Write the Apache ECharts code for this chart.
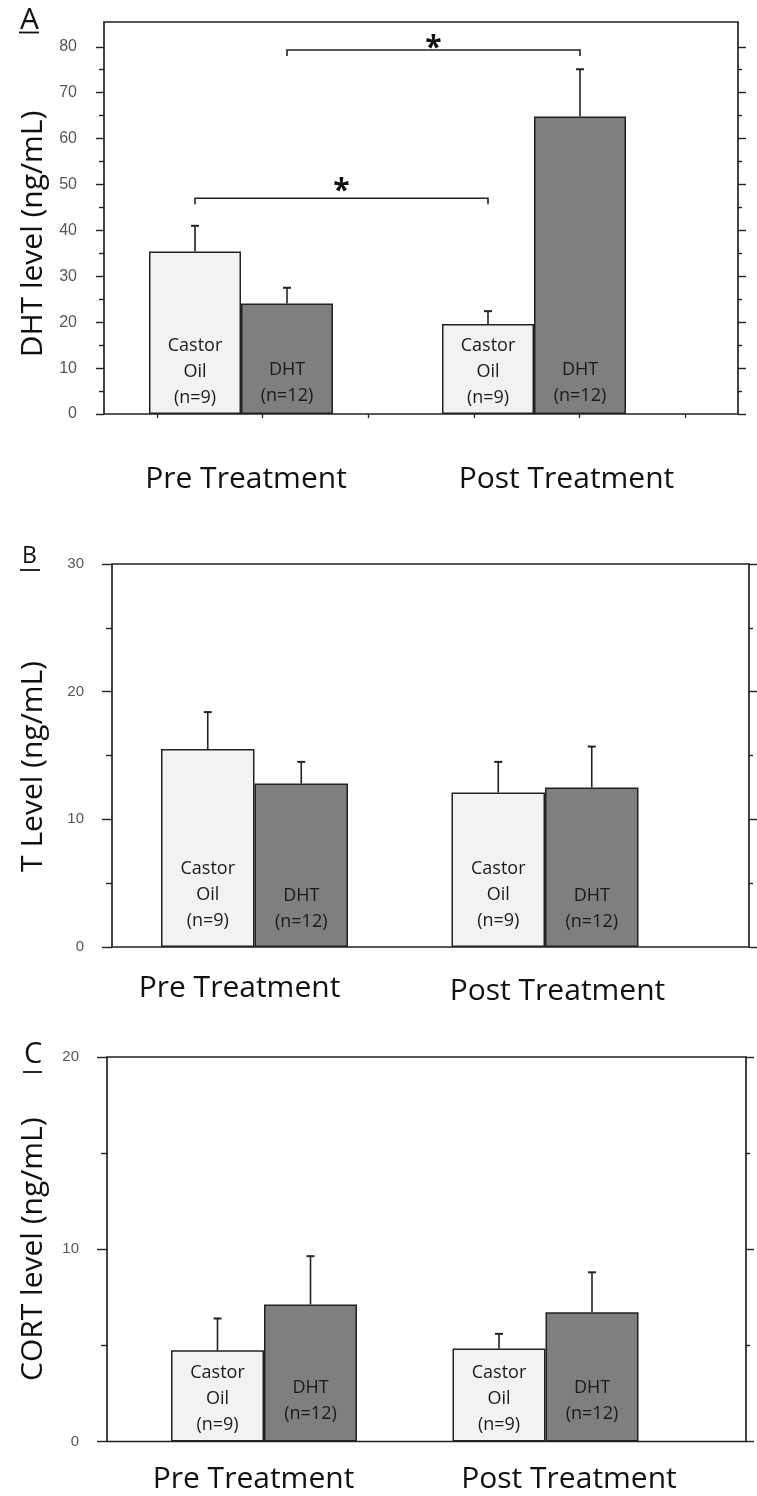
<!DOCTYPE html>
<html><head><meta charset="utf-8">
<script src="https://cdn.jsdelivr.net/npm/echarts@6/dist/echarts.min.js"></script>
<style>html,body{margin:0;padding:0;background:#fff}#c{width:757px;height:1496px}</style>
</head><body><div id="c"></div>
<script>
// ---------- data ----------
const groups = ['Pre Treatment', 'Post Treatment'];
const seriesNames = ['Castor Oil', 'DHT'];
const barLabels = ['Castor\nOil\n(n=9)', 'DHT\n(n=12)'];

// Panel A: DHT level (ng/mL)
const dhtCastor = [35.4, 19.6];
const dhtCastorErr = [5.6, 2.8];
const dhtDHT = [24.1, 64.8];
const dhtDHTErr = [3.4, 10.3];
const dhtAxisMax = 85.4;
const dhtTicks = [0, 10, 20, 30, 40, 50, 60, 70, 80];
const dhtMinorTicks = [5, 15, 25, 35, 45, 55, 65, 75];
// significance brackets: [seriesIndex compared pre vs post, bracket level, star level]
const dhtSigSeries = [0, 1];
const dhtSigLevel = [47.0, 79.3];
const dhtSigStar = [49.6, 80.8];

// Panel B: T level (ng/mL)
const tCastor = [15.5, 12.1];
const tCastorErr = [2.9, 2.4];
const tDHT = [12.8, 12.5];
const tDHTErr = [1.7, 3.2];
const tAxisMax = 30;
const tTicks = [0, 10, 20, 30];
const tMinorTicks = [5, 15, 25];

// Panel C: CORT level (ng/mL)
const cortCastor = [4.74, 4.84];
const cortCastorErr = [1.66, 0.76];
const cortDHT = [7.13, 6.72];
const cortDHTErr = [2.51, 2.08];
const cortAxisMax = 20;
const cortTicks = [0, 10, 20];
const cortMinorTicks = [5, 15];

const frameSlots = ['a', 'b', 'c', 'd', 'e', 'f'];

// ---------- layout / style ----------
const INK = '#222';
const panels = [
  { letter: 'A', title: 'DHT level (ng/mL)', castor: dhtCastor, castorErr: dhtCastorErr, dht: dhtDHT, dhtErr: dhtDHTErr,
    max: dhtAxisMax, ticks: dhtTicks, minor: dhtMinorTicks,
    sig: dhtSigSeries.map((s, k) => [s, dhtSigLevel[k], dhtSigStar[k]]),
    L: { frame: { left: 104, right: 19, top: 22, height: 392 }, bars: { left: 94.5, right: 76.5 }, barWidth: 92,
      tickFont: 16, labelMargin: 27, majorLen: 8, minorLen: 5, nameGap: 56, namePad: 32,
      groupShift: [5, 32.5], groupDy: [0, 0], groupMargin: 47, labelDist: [3, 5], xTicks: true,
      letter: { x: 20, top: 5, size: 30, ul: [19, 39, 32.5] } } },
  { letter: 'B', title: 'T Level (ng/mL)', castor: tCastor, castorErr: tCastorErr, dht: tDHT, dhtErr: tDHTErr,
    max: tAxisMax, ticks: tTicks, minor: tMinorTicks, sig: [],
    L: { frame: { left: 112, right: 8, top: 564, height: 383 }, bars: { left: 109.25, right: 66.75 }, barWidth: 93.5,
      tickFont: 15, labelMargin: 28, majorLen: 10, minorLen: 6, nameGap: 64, namePad: 22,
      groupShift: [-15, 12.5], groupDy: [0, 7], groupMargin: 23, labelDist: [13, 12], xTicks: false,
      letter: { x: 22, top: 544.5, size: 23, ul: [20, 40, 570] } } },
  { letter: 'C', title: 'CORT level (ng/mL)', castor: cortCastor, castorErr: cortCastorErr, dht: cortDHT, dhtErr: cortDHTErr,
    max: cortAxisMax, ticks: cortTicks, minor: cortMinorTicks, sig: [],
    L: { frame: { left: 107, right: 11, top: 1057, height: 384.5 }, bars: { left: 123.25, right: 70.75 }, barWidth: 93,
      tickFont: 15, labelMargin: 28, majorLen: 10, minorLen: 6, nameGap: 59, namePad: 0,
      groupShift: [-10.5, 23.5], groupDy: [0, 0], groupMargin: 20, labelDist: [4, 14.5], xTicks: false,
      letter: { x: 24, top: 1040, size: 29, ul: [23, 42, 1072] } } }
];

const option = { animation: false, backgroundColor: '#fff', grid: [], xAxis: [], yAxis: [], series: [], graphic: [] };

panels.forEach((p) => {
  const L = p.L;
  const gF = option.grid.length;
  option.grid.push({ left: L.frame.left, right: L.frame.right, top: L.frame.top, height: L.frame.height,
    show: true, borderColor: INK, borderWidth: 1.7, backgroundColor: 'transparent' });
  const gB = option.grid.length;
  option.grid.push({ left: L.bars.left, right: L.bars.right, top: L.frame.top, height: L.frame.height });

  option.xAxis.push({ gridIndex: gF, type: 'category', data: frameSlots,
    axisLine: { show: false }, axisLabel: { show: false }, splitLine: { show: false },
    axisTick: { show: L.xTicks, alignWithLabel: true, length: 4, lineStyle: { color: INK, width: 1.3 } } });
  const xB = option.xAxis.length;
  const rich = {};
  L.groupShift.forEach((d, k) => {
    rich['g' + k] = { fontSize: 30, fontFamily: 'Open Sans', color: '#111', lineHeight: 36,
      padding: [L.groupDy[k], d < 0 ? -2 * d : 0, 0, d > 0 ? 2 * d : 0] };
  });
  option.xAxis.push({ gridIndex: gB, type: 'category', data: groups,
    axisLine: { show: false }, axisTick: { show: false }, splitLine: { show: false },
    axisLabel: { margin: L.groupMargin, interval: 0, formatter: (v, idx) => '{g' + idx + '|' + v + '}', rich: rich } });

  const tickLine = { color: INK, width: 1.4 };
  const base = { gridIndex: gF, type: 'value', min: 0, max: p.max, splitLine: { show: false }, axisLine: { show: false } };
  option.yAxis.push(Object.assign({}, base, { position: 'left',
    axisTick: { show: true, customValues: p.ticks, length: L.majorLen, lineStyle: tickLine },
    axisLabel: { show: true, customValues: p.ticks, margin: L.labelMargin, fontSize: L.tickFont,
      fontFamily: 'Liberation Sans', color: '#555' },
    name: p.title, nameLocation: 'middle', nameGap: L.nameGap, nameRotate: 90,
    nameTextStyle: { fontFamily: 'Open Sans', fontSize: 30, color: '#111', padding: [0, L.namePad, 0, 0] } }));
  option.yAxis.push(Object.assign({}, base, { position: 'left',
    axisTick: { show: true, customValues: p.minor, length: L.minorLen, lineStyle: tickLine }, axisLabel: { show: false } }));
  option.yAxis.push(Object.assign({}, base, { position: 'right',
    axisTick: { show: true, customValues: p.ticks, length: 8, lineStyle: tickLine }, axisLabel: { show: false } }));
  option.yAxis.push(Object.assign({}, base, { position: 'right',
    axisTick: { show: true, customValues: p.minor, length: 4, lineStyle: tickLine }, axisLabel: { show: false } }));
  const yB = option.yAxis.length;
  option.yAxis.push({ gridIndex: gB, type: 'value', min: 0, max: p.max, show: false });

  const vals = [p.castor, p.dht];
  const errs = [p.castorErr, p.dhtErr];
  const fills = ['#f2f2f2', '#7f7f7f'];
  vals.forEach((v, s) => {
    option.series.push({ type: 'bar', name: seriesNames[s], xAxisIndex: xB, yAxisIndex: yB, data: v,
      barWidth: L.barWidth, barGap: '0%',
      itemStyle: { color: fills[s], borderColor: INK, borderWidth: 1.5 },
      label: { show: true, position: 'insideBottom', distance: L.labelDist[s], formatter: barLabels[s],
        fontFamily: 'Open Sans', fontSize: 18, lineHeight: 26, color: '#1a1a1a' } });
  });

  const half = L.barWidth / 2;
  const errData = [];
  vals.forEach((v, s) => v.forEach((m, g) => errData.push([g, m, m + errs[s][g], s])));
  option.series.push({ type: 'custom', xAxisIndex: xB, yAxisIndex: yB, data: errData, z: 5,
    renderItem: (params, api) => {
      const g = api.value(0), s = api.value(3);
      const b = api.coord([g, api.value(1)]);
      const t = api.coord([g, api.value(2)]);
      const x = b[0] + (s === 0 ? -half : half);
      const st = { stroke: INK, lineWidth: 1.6 };
      return { type: 'group', children: [
        { type: 'line', shape: { x1: x, y1: b[1], x2: x, y2: t[1] }, style: st },
        { type: 'line', shape: { x1: x - 4, y1: t[1], x2: x + 4, y2: t[1] }, style: { stroke: INK, lineWidth: 2 } }
      ] };
    } });

  if (p.sig.length) {
    option.series.push({ type: 'custom', xAxisIndex: xB, yAxisIndex: yB, data: p.sig, z: 5,
      renderItem: (params, api) => {
        const s = api.value(0);
        const off = s === 0 ? -half : half;
        const a = api.coord([0, api.value(1)]);
        const c = api.coord([1, api.value(1)]);
        const star = api.coord([0, api.value(2)]);
        const x1 = a[0] + off, x2 = c[0] + off, y = a[1];
        const st = { stroke: INK, lineWidth: 1.6, fill: null };
        return { type: 'group', children: [
          { type: 'polyline', shape: { points: [[x1, y + 6], [x1, y], [x2, y], [x2, y + 6]] }, style: st },
          { type: 'text', style: { text: '*', x: (x1 + x2) / 2, y: star[1] + 5, align: 'center', verticalAlign: 'middle',
            font: 'bold 30px "Open Sans"', fill: '#111' } }
        ] };
      } });
  }

  option.graphic.push({ type: 'text', left: L.letter.x, top: L.letter.top,
    style: { text: p.letter, font: L.letter.size + 'px "Open Sans"', fill: '#111' } });
  option.graphic.push({ type: 'line', shape: { x1: L.letter.ul[0], y1: L.letter.ul[2], x2: L.letter.ul[1], y2: L.letter.ul[2] },
    style: { stroke: '#111', lineWidth: 1.8 } });
});

const chart = echarts.init(document.getElementById('c'), null, { renderer: 'canvas', width: 757, height: 1496 });
chart.setOption(option);
</script></body></html>
